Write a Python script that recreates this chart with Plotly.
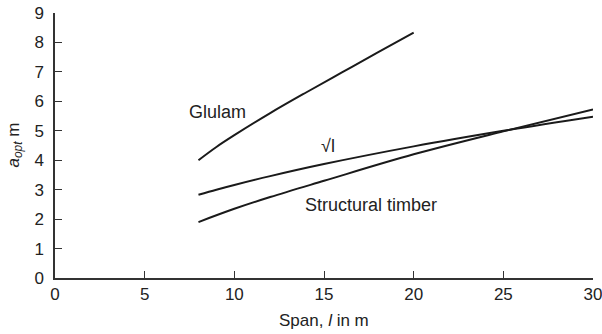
import plotly.graph_objects as go

# Data
glulam_x = [8, 9, 10, 12, 14, 16, 18, 20]
glulam_y = [4.0, 4.45, 4.85, 5.6, 6.3, 6.98, 7.66, 8.33]

sqrt_x = [8, 9, 10, 12, 15, 20, 25, 30]
sqrt_y = [2.83, 3.0, 3.16, 3.46, 3.87, 4.47, 5.0, 5.48]

timber_x = [8, 10, 12, 15, 20, 25, 30]
timber_y = [1.9, 2.35, 2.75, 3.3, 4.2, 4.98, 5.72]

x_ticks = [0, 5, 10, 15, 20, 25, 30]
y_ticks = [0, 1, 2, 3, 4, 5, 6, 7, 8, 9]

labels = [
    ("Glulam", 9.05, 5.64),
    ("√l", 15.2, 4.5),
    ("Structural timber", 17.6, 2.47),
]

x_title = "Span, <i>l</i> in m"
y_title = "<i>a<sub>opt</sub></i> m"

FONT = "Liberation Sans, Arial, sans-serif"
LINE = "#1a1a1a"

fig = go.Figure()
for xs, ys in [(glulam_x, glulam_y), (sqrt_x, sqrt_y), (timber_x, timber_y)]:
    fig.add_trace(go.Scatter(x=xs, y=ys, mode="lines", line=dict(color=LINE, width=2, shape="spline"),
                             showlegend=False, hoverinfo="skip", cliponaxis=False))

for text, lx, ly in labels:
    fig.add_annotation(x=lx, y=ly, text=text, showarrow=False, xref="x", yref="y",
                       font=dict(family=FONT, size=18, color="#222"))

# axis titles
fig.add_annotation(x=0.5, y=0, xref="paper", yref="paper", text=x_title, showarrow=False,
                   yanchor="middle", yshift=-42, font=dict(family=FONT, size=17, color="#222"))
fig.add_annotation(x=0, y=0.5, xref="paper", yref="paper", text=y_title, showarrow=False,
                   textangle=-90, xanchor="center", xshift=-41, font=dict(family=FONT, size=17, color="#222"))

fig.update_layout(
    width=602, height=334,
    margin=dict(l=55, r=9, t=13, b=56, autoexpand=False),
    paper_bgcolor="white", plot_bgcolor="white",
    font=dict(family=FONT, size=17, color="#222"),
    hovermode=False,
    xaxis=dict(range=[0, 30], tickvals=x_ticks, ticks="inside", ticklen=7, tickwidth=1.3,
               tickcolor="#333", showline=True, linecolor="#333", linewidth=1.5,
               showgrid=False, zeroline=False, automargin=False, ticklabeloverflow="allow",
               ticklabelstandoff=0, tickfont=dict(size=17)),
    yaxis=dict(range=[0, 9], tickvals=y_ticks, ticks="inside", ticklen=7, tickwidth=1.3,
               tickcolor="#333", showline=True, linecolor="#333", linewidth=1.5,
               showgrid=False, zeroline=False, automargin=False, ticklabeloverflow="allow",
               ticklabelstandoff=6, tickfont=dict(size=17)),
)

fig.write_html("out.html", config={"displayModeBar": False},
               post_script="document.body.style.margin='0px';")
